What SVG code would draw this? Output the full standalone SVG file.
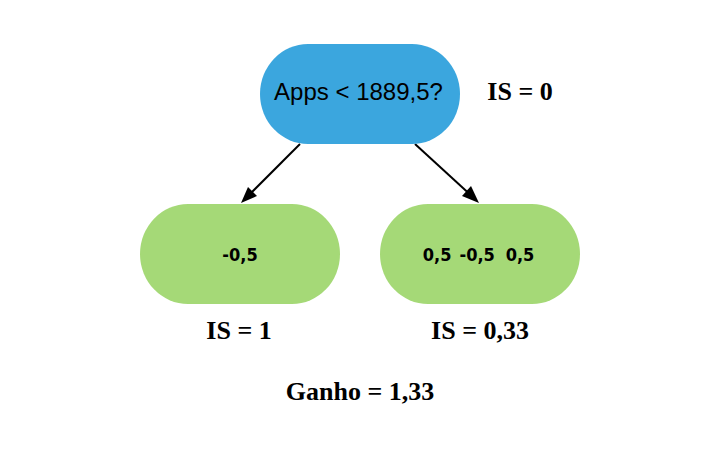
<svg xmlns="http://www.w3.org/2000/svg" width="713" height="456" viewBox="0 0 713 456">
<defs>
<style>
.root{fill:#3ba6de}
.leaf{fill:#a5d977}
.lbl{font-family:"Liberation Sans",Arial,sans-serif;font-size:24px;fill:#000;text-anchor:middle}
.val{font-family:"DejaVu Sans Condensed","DejaVu Sans",sans-serif;font-weight:bold;font-size:18px;fill:#000;text-anchor:middle}
.note{font-family:"Liberation Serif","Times New Roman",serif;font-weight:bold;font-size:26px;fill:#000;text-anchor:middle}
.edge{stroke:#000;stroke-width:2;fill:none}
.head{fill:#000}
</style>
</defs>
<rect width="713" height="456" fill="#fff"/>
<g id="connectors">
<line class="edge" x1="300" y1="144" x2="245" y2="199"/>
<path class="head" d="M241,203 L248,187 L257,196 z"/>
<line class="edge" x1="415" y1="144" x2="475" y2="199"/>
<path class="head" d="M479,203 L462,196 L471,186 z"/>
</g>
<g id="root">
<rect class="root" x="260" y="44" width="200" height="100" rx="48" ry="50"/>
<text class="lbl" x="358.5" y="100">Apps &lt; 1889,5?</text>
</g>
<g id="leaf-left">
<rect class="leaf" x="140" y="204" width="200" height="100" rx="48" ry="50"/>
<text class="val" x="240" y="261">-0,5</text>
</g>
<g id="leaf-right">
<rect class="leaf" x="380" y="204" width="200" height="100" rx="48" ry="50"/>
<text class="val" y="261"><tspan x="440">0,5</tspan> <tspan x="480">-0,5</tspan> <tspan x="520">0,5</tspan></text>
</g>
<g id="notes">
<text class="note" x="520" y="100">IS = 0</text>
<text class="note" x="239" y="339">IS = 1</text>
<text class="note" x="480" y="339">IS = 0,33</text>
<text class="note" x="360" y="400">Ganho = 1,33</text>
</g>
</svg>
